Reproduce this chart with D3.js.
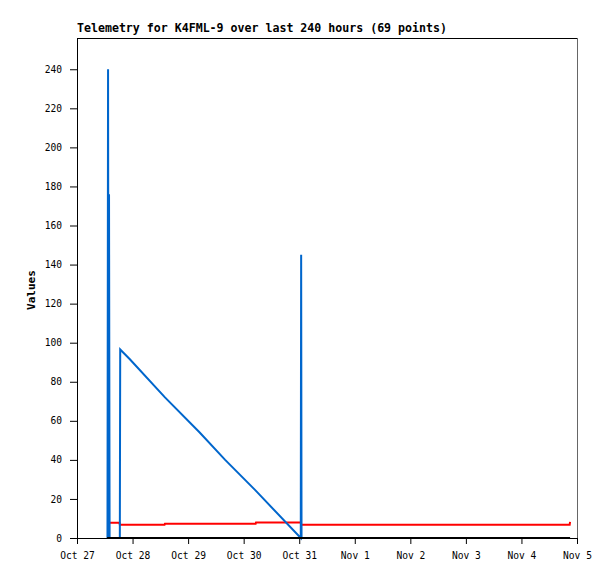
<!DOCTYPE html>
<html>
<head>
<meta charset="utf-8">
<script src="https://cdn.jsdelivr.net/npm/d3@7"></script>
<style>
  body { margin: 0; background: #fff; }
  svg { display: block; }
  text { font-family: "DejaVu Sans Mono", monospace; }
</style>
</head>
<body>
<div class="chart-container"></div>
<script>
// telemetry data
const titleText = "Telemetry for K4FML-9 over last 240 hours (69 points)";
const yLabel = "Values";
const yTicks = [0, 20, 40, 60, 80, 100, 120, 140, 160, 180, 200, 220, 240];
const xStart = "2023-10-27T00:00";
const xEnd = "2023-11-05T00:00";

const blueTimes = [
  "2023-10-27T13:10", "2023-10-27T13:25", "2023-10-27T13:40", "2023-10-27T13:50",
  "2023-10-27T14:05", "2023-10-27T18:30", "2023-10-27T18:40", "2023-10-27T22:50",
  "2023-10-28T14:00", "2023-10-29T05:00", "2023-10-29T16:00", "2023-10-30T05:00",
  "2023-10-31T00:40", "2023-10-31T00:50", "2023-10-31T01:00", "2023-11-04T21:00"
];
const blueValues = [0, 240, 0, 176, 0, 0, 96.5, 91.5, 72, 54, 40, 24.5, 0, 145, 0, 0];

const redTimes = [
  "2023-10-27T13:00", "2023-10-27T18:20", "2023-10-27T18:30", "2023-10-28T13:50",
  "2023-10-28T14:00", "2023-10-30T05:10", "2023-10-30T05:20", "2023-10-31T00:40",
  "2023-10-31T00:50", "2023-11-04T20:50", "2023-11-04T21:00"
];
const redValues = [7.8, 7.8, 6.8, 6.8, 7.3, 7.3, 8.0, 8.0, 6.8, 6.8, 8.3];

const blackTimes = ["2023-10-27T13:00", "2023-11-04T21:00"];
const blackValues = [0, 0];

const width = 615;
const height = 579;
const margin = { top: 38, right: 38, bottom: 41, left: 77 };
const innerWidth = width - margin.left - margin.right;
const innerHeight = height - margin.top - margin.bottom;

const parseTime = d3.timeParse("%Y-%m-%dT%H:%M");

function toSeries(times, values) {
  return times.map(function(t, i) {
    return { date: parseTime(t), value: values[i] };
  });
}

var x = d3.scaleTime()
  .domain([parseTime(xStart), parseTime(xEnd)])
  .range([0, innerWidth]);
var y = d3.scaleLinear().domain([0, 256]).range([innerHeight, 0]);

var svg = d3.select(".chart-container")
  .append("svg")
  .attr("width", width)
  .attr("height", height)
  .append("g")
  .attr("transform", "translate(" + margin.left + "," + margin.top + ")");

// frame: top black, right grey
svg.append("line")
  .attr("x1", 0).attr("x2", innerWidth)
  .attr("y1", 0.5).attr("y2", 0.5)
  .style("stroke", "#000");
svg.append("line")
  .attr("x1", innerWidth + 0.5).attr("x2", innerWidth + 0.5)
  .attr("y1", 0).attr("y2", innerHeight)
  .style("stroke", "#666");

var valueline = d3.line()
  .x(d => x(d.date))
  .y(d => y(d.value));

[
  { data: toSeries(redTimes, redValues), color: "#ff0000" },
  { data: toSeries(blueTimes, blueValues), color: "#0066cc" },
  { data: toSeries(blackTimes, blackValues), color: "#000000" }
].forEach(function(s) {
  svg.append("path")
    .datum(s.data)
    .attr("d", valueline)
    .style("fill", "none")
    .style("stroke", s.color)
    .style("stroke-width", "2px");
});

// axes
var xAxis = d3.axisBottom(x)
  .ticks(d3.timeDay.every(1))
  .tickFormat(d3.timeFormat("%b %-d"))
  .tickSize(6)
  .tickSizeOuter(0)
  .tickPadding(8);
var yAxis = d3.axisLeft(y)
  .tickValues(yTicks)
  .tickSize(7)
  .tickSizeOuter(0)
  .tickPadding(8);

svg.append("g")
  .attr("class", "x-axis")
  .attr("transform", "translate(0," + innerHeight + ")")
  .call(xAxis);
svg.append("g")
  .attr("class", "y-axis")
  .call(yAxis);

svg.selectAll(".x-axis text, .y-axis text")
  .style("font-family", "'DejaVu Sans Mono', monospace")
  .style("font-size", "9.6px")
  .style("fill", "#000");
svg.selectAll(".domain, .tick line").style("stroke", "#000");

// title and y label
svg.append("text")
  .attr("x", 0)
  .attr("y", -6)
  .style("font-size", "11.6px")
  .style("font-weight", "bold")
  .text(titleText);

svg.append("text")
  .attr("transform", "translate(" + (-42) + "," + (innerHeight / 2 + 2) + ") rotate(-90)")
  .attr("text-anchor", "middle")
  .style("font-size", "11px")
  .style("font-weight", "bold")
  .text(yLabel);
</script>
</body>
</html>
